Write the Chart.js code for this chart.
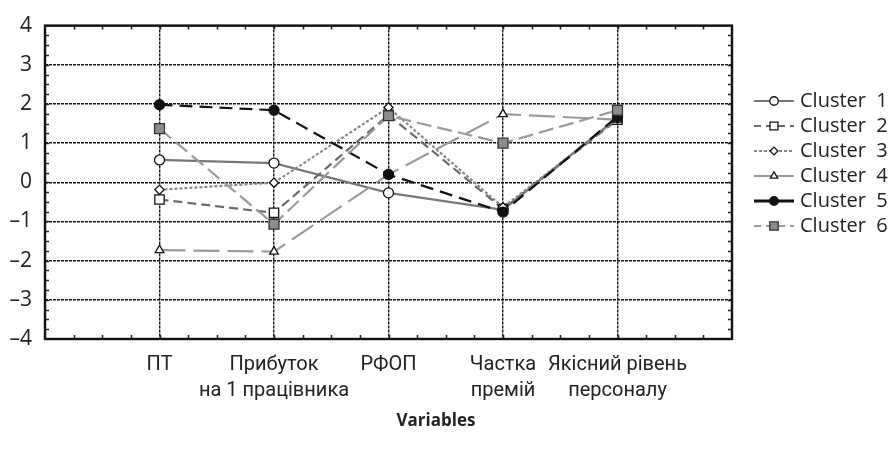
<!DOCTYPE html>
<html>
<head>
<meta charset="utf-8">
<script src="https://cdn.jsdelivr.net/npm/chart.js@4.4.1/dist/chart.umd.min.js"></script>
<style>
  html, body { margin: 0; padding: 0; background: #fff; }
  #wrap { width: 894px; height: 459px; }
</style>
</head>
<body>
<div id="wrap"><canvas id="c" width="894" height="459"></canvas></div>
<script>
// Variables shown along the horizontal axis
const categories = ['ПТ', ['Прибуток', 'на 1 працівника'], 'РФОП', ['Частка', 'премій'], ['Якісний рівень', 'персоналу']];
const seriesNames = ['Cluster  1', 'Cluster  2', 'Cluster  3', 'Cluster  4', 'Cluster  5', 'Cluster  6'];

// Cluster means for each variable
const cluster1 = [0.57, 0.49, -0.27, -0.70, 1.65];
const cluster2 = [-0.44, -0.78, 1.72, -0.68, 1.60];
const cluster3 = [-0.19, -0.01, 1.91, -0.64, 1.62];
const cluster4 = [-1.73, -1.77, 0.20, 1.74, 1.60];
const cluster5 = [1.98, 1.84, 0.20, -0.76, 1.68];
const cluster6 = [1.37, -1.07, 1.70, 1.00, 1.84];

const yTicks = [-4, -3, -2, -1, 0, 1, 2, 3, 4];

const FONT = '"Open Sans", "Noto Sans", sans-serif';
const LABEL_FONT = 'Roboto, "Open Sans", sans-serif';

const styles = [
  { color: '#777777', width: 2.2, dash: [],       point: 'circle',  radius: 5.0, fill: '#ffffff', edge: '#111', order: 6, legendDash: [] },
  { color: '#6a6a6a', width: 2.2, dash: [9, 5],   point: 'rect',    radius: 6.6, fill: '#ffffff', edge: '#111', order: 5, legendDash: [7, 5] },
  { color: '#888888', width: 2.2, dash: [3, 2],   point: 'rectRot', radius: 4.6, fill: '#ffffff', edge: '#111', order: 4, legendDash: [3, 2] },
  { color: '#9a9a9a', width: 2.2, dash: [26, 8],  point: 'triangle',radius: 5.0, fill: '#ffffff', edge: '#111', order: 3, legendDash: [] },
  { color: '#111111', width: 2.2, dash: [13, 7],  point: 'circle',  radius: 5.0, fill: '#111111', edge: '#111', order: 2, legendDash: [] },
  { color: '#9a9a9a', width: 2.2, dash: [15, 6],  point: 'rect',    radius: 7.0, fill: '#8c8c8c', edge: '#333', order: 1, legendDash: [7, 5] }
];
const allSeries = [cluster1, cluster2, cluster3, cluster4, cluster5, cluster6];

const datasets = allSeries.map((vals, i) => {
  const s = styles[i];
  return {
    label: seriesNames[i],
    data: vals.map((v, k) => ({ x: k + 1, y: v })),
    borderColor: s.color,
    borderWidth: s.width,
    borderDash: s.dash,
    pointStyle: s.point,
    pointRadius: s.radius,
    pointBackgroundColor: s.fill,
    pointBorderColor: s.edge,
    pointBorderWidth: 1.3,
    tension: 0,
    fill: false,
    order: s.order
  };
});

// Frame with inward minor ticks, legend and axis title
const decorations = {
  id: 'decorations',
  afterDraw(chart) {
    const ctx = chart.ctx;
    const xs = chart.scales.x, ys = chart.scales.y;
    const L = xs.left, R = xs.right, T = ys.top, B = ys.bottom;
    ctx.save();
    // minor ticks every quarter unit
    ctx.strokeStyle = '#222';
    ctx.lineWidth = 1.6;
    ctx.setLineDash([]);
    ctx.beginPath();
    for (let v = 0.25; v < 6; v += 0.25) {
      const px = Math.round(xs.getPixelForValue(v)) + 0.5;
      ctx.moveTo(px, B); ctx.lineTo(px, B - 4);
      ctx.moveTo(px, T); ctx.lineTo(px, T + 4);
    }
    for (let v = -3.75; v < 4; v += 0.25) {
      const py = Math.round(ys.getPixelForValue(v)) + 0.5;
      ctx.moveTo(L, py); ctx.lineTo(L + 4, py);
      ctx.moveTo(R, py); ctx.lineTo(R - 4, py);
    }
    ctx.stroke();
    // frame
    ctx.lineWidth = 2.4;
    ctx.strokeStyle = '#111';
    ctx.strokeRect(L, T, R - L, B - T);

    // legend
    const lx0 = 754, lx1 = 794, mx = 774, tx = 800;
    chart.data.datasets.forEach((ds, i) => {
      const y = 101 + 25 * i;
      const s = styles[i];
      ctx.strokeStyle = s.color;
      ctx.lineWidth = s.width + (i === 4 ? 0.8 : 0);
      ctx.setLineDash(s.legendDash);
      ctx.beginPath();
      ctx.moveTo(lx0, y); ctx.lineTo(lx1, y);
      ctx.stroke();
      ctx.setLineDash([]);
      ctx.fillStyle = s.fill;
      ctx.strokeStyle = s.edge;
      ctx.lineWidth = 1.3;
      Chart.helpers.drawPoint(ctx, { pointStyle: s.point, radius: s.radius * 0.85, rotation: 0, borderWidth: 1.3 }, mx, y);
      ctx.fillStyle = '#222';
      ctx.font = '20px ' + FONT;
      ctx.textAlign = 'left';
      ctx.textBaseline = 'middle';
      ctx.fillText(ds.label, tx, y);
    });

    // axis title
    ctx.fillStyle = '#222';
    ctx.font = 'bold 17px ' + FONT;
    ctx.textAlign = 'center';
    ctx.textBaseline = 'middle';
    ctx.fillText('Variables', 436, 421);
    ctx.restore();
  }
};

new Chart(document.getElementById('c'), {
  type: 'line',
  data: { datasets },
  options: {
    responsive: false,
    animation: false,
    devicePixelRatio: 1,
    layout: { padding: { left: 0, top: 14, right: 162, bottom: 0 } },
    plugins: { legend: { display: false }, tooltip: { enabled: false } },
    scales: {
      x: {
        type: 'linear',
        min: 0, max: 6,
        afterFit(scale) { scale.height = 120; },
        afterBuildTicks(scale) { scale.ticks = [0, 1, 2, 3, 4, 5, 6].map(v => ({ value: v })); },
        ticks: {
          autoSkip: false, maxRotation: 0, minRotation: 0,
          padding: 13,
          color: '#222',
          font: { family: LABEL_FONT, size: 20, lineHeight: 1.3 },
          callback: v => (v >= 1 && v <= 5) ? categories[v - 1] : ''
        },
        grid: { color: '#151515', lineWidth: 1.4, drawTicks: false },
        border: { display: false, dash: [3, 1] }
      },
      y: {
        type: 'linear',
        min: -4, max: 4,
        afterFit(scale) { scale.width = 45; },
        afterBuildTicks(scale) { scale.ticks = yTicks.map(v => ({ value: v })); },
        ticks: {
          padding: 13,
          color: '#222',
          font: { family: FONT, size: 21 },
          callback: v => v < 0 ? '\u2013' + Math.abs(v) : String(v)
        },
        grid: { color: '#151515', lineWidth: 1.4, drawTicks: false },
        border: { display: false, dash: [3, 1] }
      }
    }
  },
  plugins: [decorations]
});
</script>
</body>
</html>
